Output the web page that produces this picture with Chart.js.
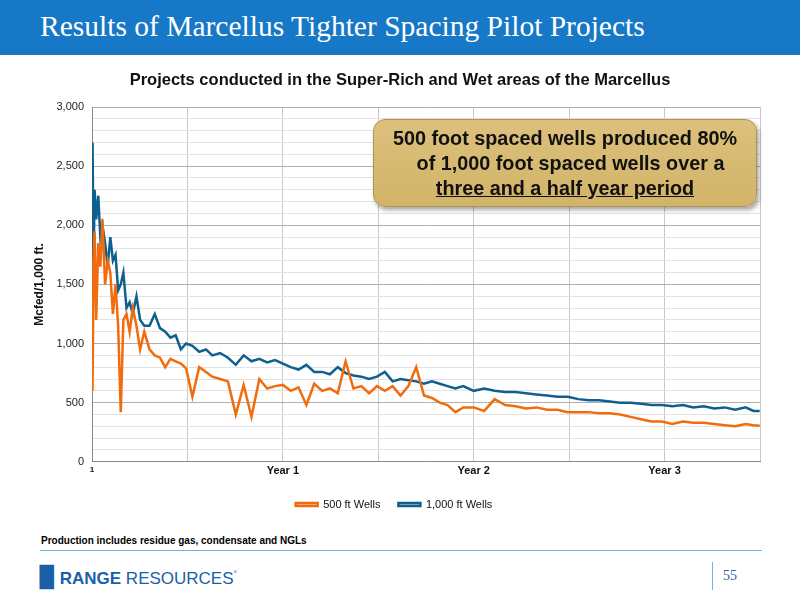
<!DOCTYPE html>
<html><head><meta charset="utf-8">
<script src="https://cdn.jsdelivr.net/npm/chart.js@4"></script>
<style>
body{margin:0;width:800px;height:600px;position:relative;background:#fff;font-family:"Liberation Sans",Arial,sans-serif;overflow:hidden}
#hdr{position:absolute;left:0;top:0;width:800px;height:55px;background:#1678c6}
#hdr span{position:absolute;left:40px;top:10px;color:#fff;font-family:"Liberation Serif",serif;font-size:29.5px}
#ctitle{position:absolute;left:0;width:800px;top:70px;text-align:center;font-weight:bold;font-size:16.5px;color:#111}
#wrap{position:absolute;left:0;top:60px;width:800px;height:460px}
#box{position:absolute;left:373px;top:119px;width:384px;height:88px;border-radius:12px;background:linear-gradient(#dcc07c,#d2b468);border:1px solid #b09455;box-shadow:2px 3px 4px rgba(0,0,0,0.35);text-align:center;font-weight:bold;font-size:19.8px;line-height:25px;color:#111;padding-top:6px;box-sizing:border-box;white-space:nowrap}
#foot{position:absolute;left:41px;top:535px;font-weight:bold;font-size:10px}
#rule{position:absolute;left:40px;top:550px;width:722px;height:1px;background:#6fb3e0}
#logo{position:absolute;left:40px;top:565px;font-size:17px;color:#1a5fa8}
#pg{position:absolute;left:712px;top:562px;height:28px;border-left:1px solid #6fb3e0;padding-left:10px;font-family:"Liberation Serif",serif;font-size:14px;color:#1a5fa8;line-height:28px}
</style></head><body>
<div id="hdr"><span>Results of Marcellus Tighter Spacing Pilot Projects</span></div>
<div id="wrap"><canvas id="c"></canvas></div>
<div id="ctitle">Projects conducted in the Super-Rich and Wet areas of the Marcellus</div>
<div id="box">500 foot spaced wells produced 80%<br>&nbsp;&nbsp;of 1,000 foot spaced wells over a<br><u>three and a half year period</u></div>
<div id="foot">Production includes residue gas, condensate and NGLs</div>
<div id="rule"></div>
<div id="logo"><b style="font-size:20px">&#9609;</b> <b>RANGE</b> RESOURCES<sup style="font-size:9px">°</sup></div>
<div id="pg">55</div>
<script>
const days = [1,3,5,8,12,16,20,25,30,35,
40,45,50,55,60,66,72,78,85,92,
100,110,120,130,140,150,160,170,180,192,
205,218,230,245,260,275,290,305,320,335,
350,365,380,395,410,425,440,455,470,485,
500,515,530,545,560,575,590,605,620,635,
650,665,680,695,710,730,750,770,790,810,
830,850,870,890,910,930,950,970,990,1010,
1030,1050,1070,1090,1110,1130,1150,1170,1190,1210,
1230,1250,1265,1277];
const wells1000 = [2700,1700,2300,2050,2250,1900,2000,1850,1650,1900,
1700,1750,1450,1500,1600,1300,1350,1250,1400,1200,
1150,1150,1250,1130,1100,1050,1070,950,1000,980,
930,950,900,920,880,820,900,850,870,840,
860,830,800,780,820,760,760,740,800,750,
730,720,700,720,760,680,700,690,680,660,
680,660,640,620,640,600,620,600,590,590,
580,570,560,550,550,530,520,520,510,500,
500,490,480,480,470,480,460,470,450,460,
440,460,430,430];
const wells500 = [600,1700,1950,1200,1850,1650,2050,1500,1700,1600,
1250,1500,1150,420,1200,1250,1100,1300,1150,950,
1100,950,900,880,800,870,850,830,790,550,
800,760,720,700,680,400,650,380,700,620,
640,650,600,630,480,660,600,620,580,850,
620,640,580,640,600,640,560,640,800,560,
540,500,480,420,460,460,430,530,480,470,
450,460,440,440,420,420,420,410,410,400,
380,360,340,340,320,340,330,330,320,310,
300,320,310,305];
const xTickLabels = {0:"1",365:"Year 1",730:"Year 2",1095:"Year 3"};
const seriesNames = ["500 ft Wells","1,000 ft Wells"];

new Chart(document.getElementById('c'),{
 type:'line',
 data:{datasets:[
  {label:seriesNames[0],data:days.map((d,i)=>({x:d,y:wells500[i]})),borderColor:'#f26c0d',borderWidth:2.5,pointRadius:0,tension:0},
  {label:seriesNames[1],data:days.map((d,i)=>({x:d,y:wells1000[i]})),borderColor:'#0f5f8f',borderWidth:2.5,pointRadius:0,tension:0}
 ]},
 options:{responsive:true,maintainAspectRatio:false,animation:false,
  layout:{padding:{top:47,right:40,left:28,bottom:0}},
  plugins:{legend:{position:'bottom',labels:{boxWidth:22,boxHeight:3,color:'#111',font:{size:11,family:'Liberation Sans'},padding:18}},tooltip:{enabled:false}},
  scales:{
   x:{type:'linear',min:0,max:1277.5,
    ticks:{stepSize:182.5,autoSkip:false,color:'#111',maxRotation:0,
     font:c=>({size:c.tick&&c.tick.value===0?8:11,weight:'bold',family:'Liberation Sans'}),
     callback:v=>xTickLabels[v]!==undefined?xTickLabels[v]:''},
    grid:{color:'#c8c8c8',drawTicks:false},border:{color:'#888'}},
   y:{min:0,max:3000,
    ticks:{stepSize:100,autoSkip:false,color:'#222',font:{size:11,family:'Liberation Sans'},padding:8,
     callback:v=>v%500===0?v.toLocaleString('en-US'):''},
    grid:{color:c=>c.tick.value%500===0?'#b0b0b0':'#e2e2e2',drawTicks:false},border:{color:'#888'},
    title:{display:true,text:'Mcfed/1,000 ft.',font:{size:12,weight:'bold',family:'Liberation Sans'},color:'#111'},
    afterFit:s=>{s.width=64}}
  }}
});
</script></body></html>
